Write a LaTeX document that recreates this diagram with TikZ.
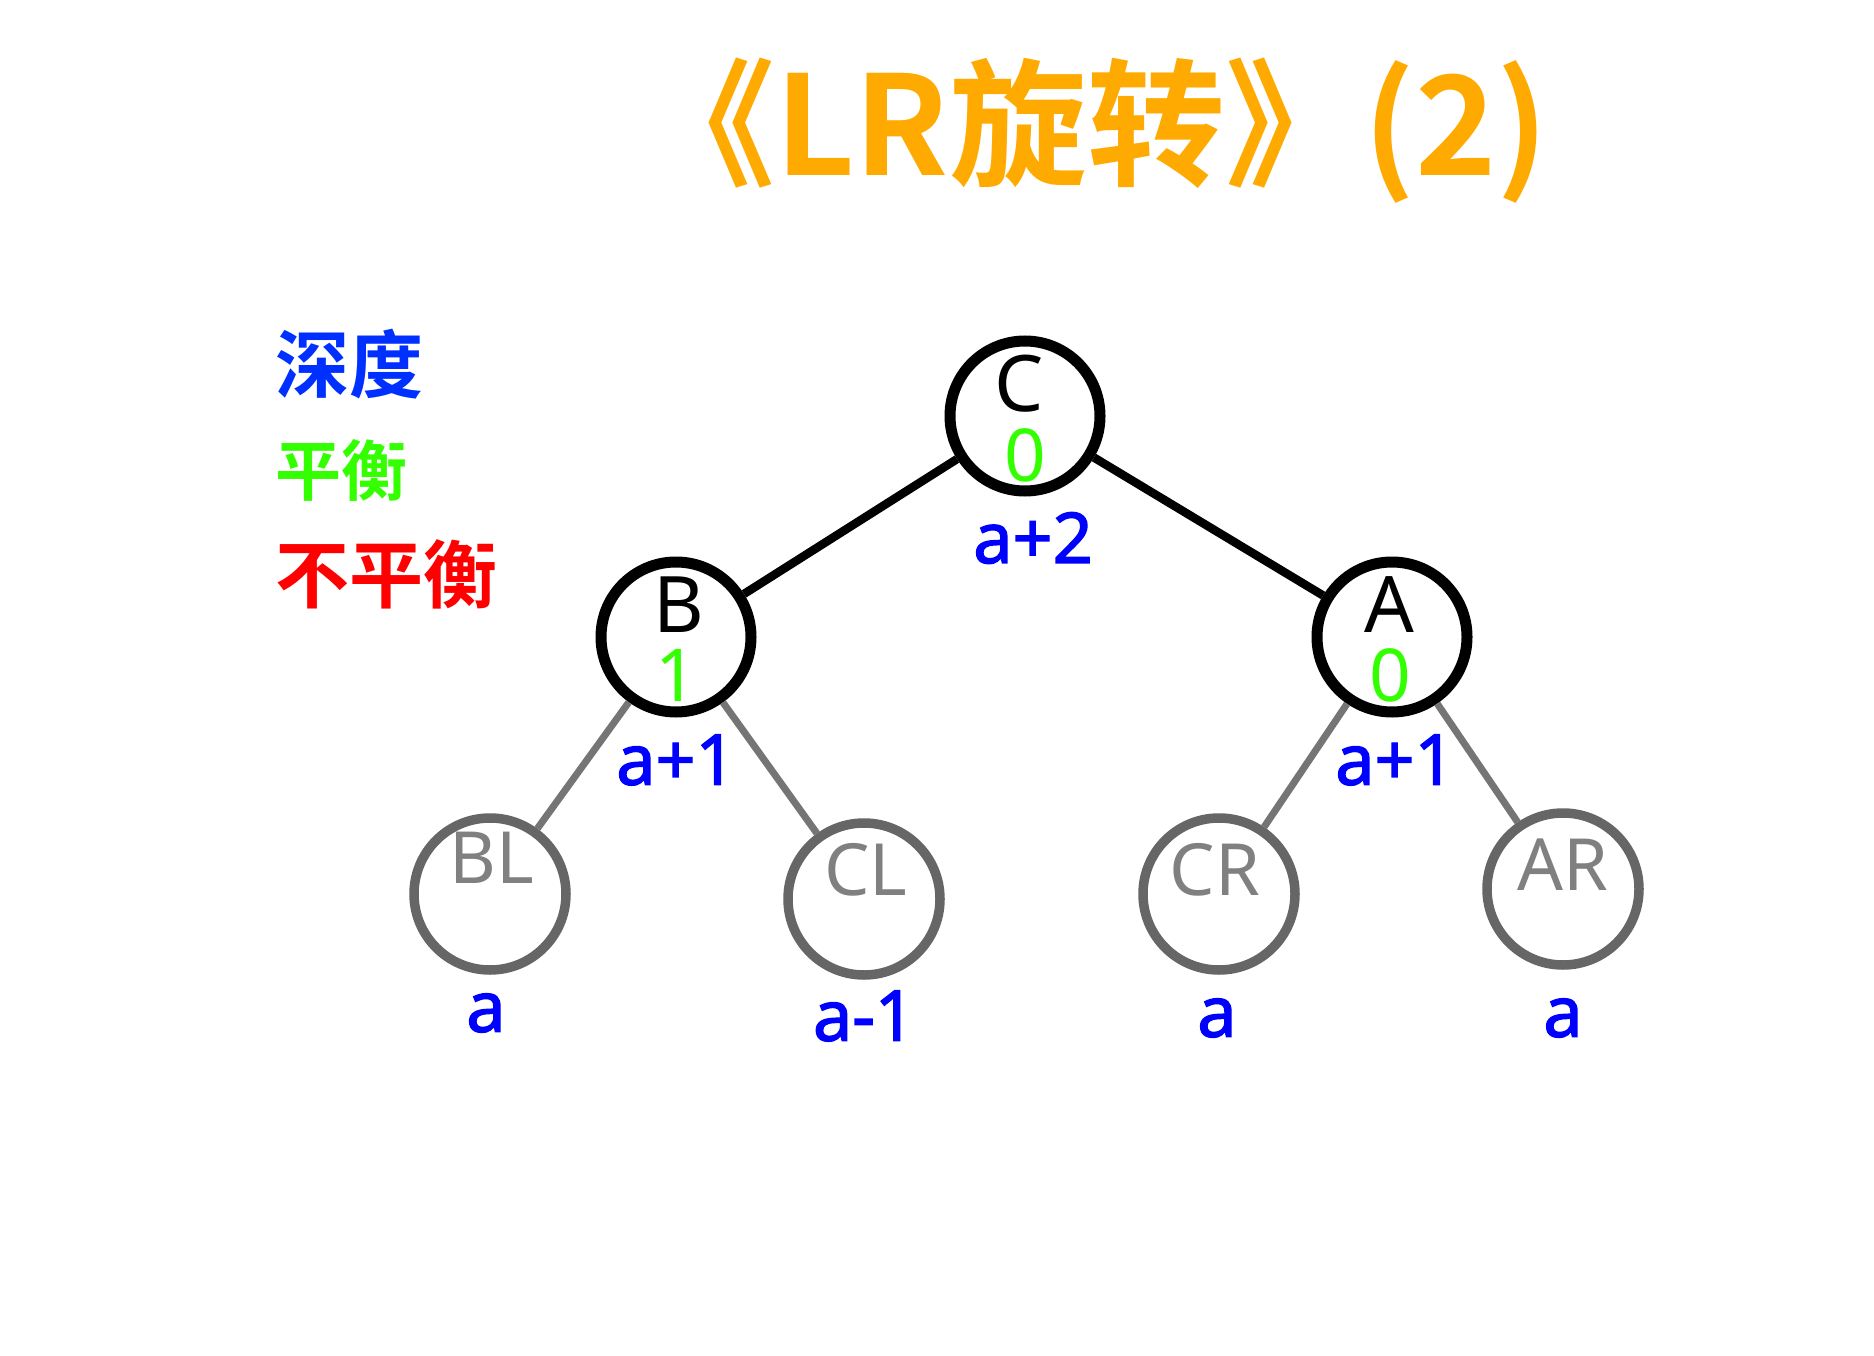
\documentclass[tikz,border=0pt]{standalone}
\usepackage{fontspec}
\setmainfont{Noto Sans}
\newfontfamily\depthfont{Noto Sans}[FakeBold=2]
\newfontfamily\cjk{Noto Sans CJK SC}[BoldFont={Noto Sans CJK SC Bold}]
\usetikzlibrary{positioning}
\definecolor{titleor}{HTML}{FFAA00}
\definecolor{balgreen}{HTML}{33FF00}
\definecolor{depthblue}{HTML}{0000FF}
\definecolor{legblue}{HTML}{0030FF}
\definecolor{subgray}{HTML}{666666}
\definecolor{subtext}{HTML}{808080}
\tikzset{
  keynode/.style={circle, draw=black, line width=11pt, minimum size=150pt, inner sep=0pt},
  subnode/.style={circle, draw=subgray, line width=9.5pt, minimum size=152pt, inner sep=0pt},
  keyedge/.style={draw=black, line width=8.5pt},
  subedge/.style={draw=subgray!90, line width=7pt},
  keylbl/.style={font=\fontsize{78}{84}\selectfont, text=black, inner sep=0pt},
  ballbl/.style={font=\fontsize{73}{78}\selectfont, text=balgreen, inner sep=0pt},
  sublbl/.style={font=\fontsize{72}{78}\selectfont, text=subtext, inner sep=0pt},
  depthlbl/.style={font=\depthfont\fontsize{70}{76}\selectfont, text=depthblue, inner sep=0pt},
  legendlbl/.style={font=\cjk\bfseries\fontsize{74}{80}\selectfont, anchor=west, inner sep=0pt},
  titlelbl/.style={font=\cjk\bfseries\fontsize{138}{144}\selectfont, text=titleor, inner sep=0pt}}

\begin{document}
\begin{tikzpicture}[x=1pt, y=-1pt]
    \useasboundingbox (0,0) rectangle (1874,1356);
    \node[titlelbl] (title) at (1093,131) {《LR旋转》(2)};
    % legend
    \node[legendlbl, text=legblue] (legdepth) at (275,364) {深度};
    \node[legendlbl, text=balgreen, font=\cjk\bfseries\fontsize{66}{72}\selectfont] (legbal) at (275,470) {平衡};
    \node[legendlbl, text=red] (legunbal) at (275,574) {不平衡};
    % tree
    \node[keynode] (C) at (1025,416) {};
    \node[keynode] (B) at (676,637) {};
    \node[keynode] (A) at (1392,637) {};
    \node[subnode] (BL) at (490,894) {};
    \node[subnode] (CL) at (864,899) {};
    \node[subnode] (CR) at (1219,894) {};
    \node[subnode] (AR) at (1563,889) {};
    \draw[keyedge] (C) -- (B);
    \draw[keyedge] (C) -- (A);
    \draw[subedge] (B) -- (BL);
    \draw[subedge] (B) -- (CL);
    \draw[subedge] (A) -- (CR);
    \draw[subedge] (A) -- (AR);
    \node[keylbl] (Ct) at (1019,384) {C};
    \node[ballbl] (Cb) at (1025,455) {0};
    \node[keylbl] (Bt) at (679,605) {B};
    \node[ballbl] (Bb) at (676,675) {1};
    \node[keylbl] (At) at (1389,605) {A};
    \node[ballbl] (Ab) at (1390,675) {0};
    \node[sublbl] (BLt) at (492,858) {BL};
    \node[sublbl] (CLt) at (866,870) {CL};
    \node[sublbl] (CRt) at (1215,870) {CR};
    \node[sublbl] (ARt) at (1563,865) {AR};
    \node[depthlbl] (Cd) at (1033,538) {a+2};
    \node[depthlbl] (Bd) at (676,760) {a+1};
    \node[depthlbl] (Ad) at (1395,760) {a+1};
    \node[depthlbl] (BLd) at (486,1013) {a};
    \node[depthlbl] (CLd) at (864,1016) {a-1};
    \node[depthlbl] (CRd) at (1217,1018) {a};
    \node[depthlbl] (ARd) at (1563,1018) {a};
\end{tikzpicture}
\end{document}
